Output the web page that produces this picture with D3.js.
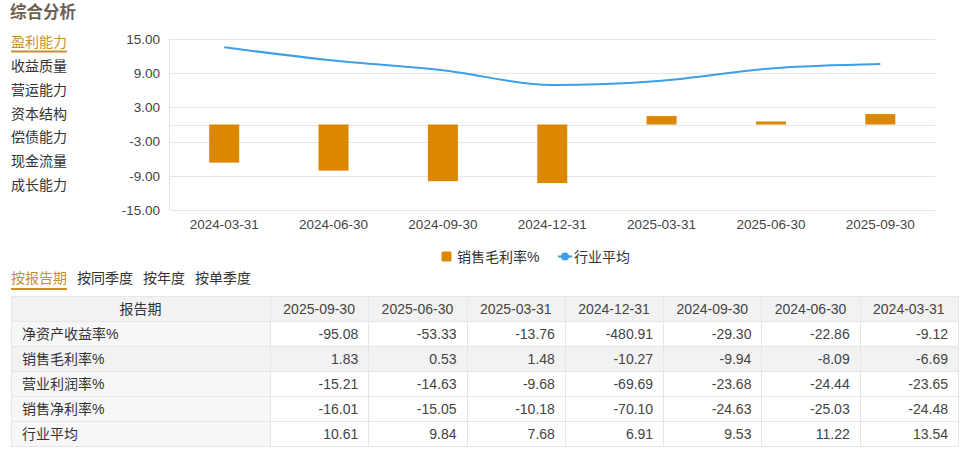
<!DOCTYPE html>
<html><head><meta charset="utf-8">
<script src="https://cdn.jsdelivr.net/npm/d3@7"></script>
<style>
html,body{margin:0;padding:0;background:#fff;}
svg{display:block;font-family:"Liberation Sans","Noto Sans CJK SC",sans-serif;}
</style></head>
<body><svg id="c" width="964" height="453"></svg>
<script>
// ---- data ----
const menuItems = ["盈利能力","收益质量","营运能力","资本结构","偿债能力","现金流量","成长能力"];
const tabs = ["按报告期","按同季度","按年度","按单季度"];
const chartPeriods = ["2024-03-31","2024-06-30","2024-09-30","2024-12-31","2025-03-31","2025-06-30","2025-09-30"];
const grossMargin = [-6.69,-8.09,-9.94,-10.27,1.48,0.53,1.83];
const industryAvg = [13.54,11.22,9.53,6.91,7.68,9.84,10.61];
const yTicks = [15,9,3,-3,-9,-15];
const tablePeriods = ["2025-09-30","2025-06-30","2025-03-31","2024-12-31","2024-09-30","2024-06-30","2024-03-31"];
const rowNames = ["净资产收益率%","销售毛利率%","营业利润率%","销售净利率%","行业平均"];
const roe = ["-95.08","-53.33","-13.76","-480.91","-29.30","-22.86","-9.12"];
const gm = ["1.83","0.53","1.48","-10.27","-9.94","-8.09","-6.69"];
const opm = ["-15.21","-14.63","-9.68","-69.69","-23.68","-24.44","-23.65"];
const npm = ["-16.01","-15.05","-10.18","-70.10","-24.63","-25.03","-24.48"];
const ind = ["10.61","9.84","7.68","6.91","9.53","11.22","13.54"];
const tableRows = [roe, gm, opm, npm, ind];

const svg = d3.select("#c");
const gold = "#c8902c", txt = "#333";

// title
svg.append("text").attr("x",10).attr("y",18).attr("font-size",16.5).attr("font-weight","bold")
  .attr("fill","#6e6050").text("综合分析");

// left menu
const menuY = d3.scalePoint().domain(menuItems).range([42,185]);
svg.selectAll("text.menu").data(menuItems).join("text").attr("class","menu")
  .attr("x",11).attr("y",d=>menuY(d)).attr("dy","0.36em").attr("font-size",14)
  .attr("fill",(d,i)=>i===0?gold:txt).text(d=>d);
svg.append("rect").attr("x",11).attr("y",50.5).attr("width",56).attr("height",2).attr("fill",gold);

// chart
const x = d3.scaleBand().domain(chartPeriods).range([169.5,935]);
const y = d3.scaleLinear().domain([-15,15]).range([210,39]);
const g = svg.append("g");
g.selectAll("line.grid").data(yTicks.concat([0])).join("line").attr("class","grid")
  .attr("x1",169.5).attr("x2",935).attr("y1",d=>Math.round(y(d))+0.5).attr("y2",d=>Math.round(y(d))+0.5)
  .attr("stroke","#e6e6e6");
g.append("line").attr("x1",169.5).attr("x2",169.5).attr("y1",39).attr("y2",210).attr("stroke","#e6e6e6");
g.selectAll("text.yl").data(yTicks).join("text").attr("class","yl")
  .attr("x",160).attr("y",d=>y(d)).attr("dy","0.36em").attr("text-anchor","end")
  .attr("font-size",13.5).attr("fill","#444").text(d=>d.toFixed(2));
g.selectAll("text.xl").data(chartPeriods).join("text").attr("class","xl")
  .attr("x",d=>x(d)+x.bandwidth()/2).attr("y",224).attr("dy","0.36em").attr("text-anchor","middle")
  .attr("font-size",13.5).attr("fill","#444").text(d=>d);
const bw = 30;
g.selectAll("rect.bar").data(grossMargin).join("rect").attr("class","bar")
  .attr("x",(d,i)=>x(chartPeriods[i])+x.bandwidth()/2-bw/2).attr("width",bw)
  .attr("y",d=>y(Math.max(0,d))).attr("height",d=>Math.abs(y(d)-y(0)))
  .attr("fill","#db8700");
const line = d3.line().x((d,i)=>x(chartPeriods[i])+x.bandwidth()/2).y(d=>y(d)).curve(d3.curveMonotoneX);
g.append("path").datum(industryAvg).attr("d",line).attr("fill","none")
  .attr("stroke","#3d9fe6").attr("stroke-width",2);

// legend
const lg = svg.append("g");
lg.append("rect").attr("x",441.5).attr("y",251.5).attr("width",10).attr("height",10).attr("rx",1.5).attr("fill","#db8700");
lg.append("text").attr("x",457).attr("y",256.5).attr("dy","0.36em").attr("font-size",14).attr("fill",txt).text("销售毛利率%");
lg.append("line").attr("x1",558).attr("x2",572).attr("y1",256.5).attr("y2",256.5).attr("stroke","#3d9fe6").attr("stroke-width",2);
lg.append("circle").attr("cx",565).attr("cy",256.5).attr("r",4).attr("fill","#3d9fe6");
lg.append("text").attr("x",574).attr("y",256.5).attr("dy","0.36em").attr("font-size",14).attr("fill",txt).text("行业平均");

// tabs
const tabX = [11,77,143,195];
svg.selectAll("text.tab").data(tabs).join("text").attr("class","tab")
  .attr("x",(d,i)=>tabX[i]).attr("y",278).attr("dy","0.36em").attr("font-size",14)
  .attr("fill",(d,i)=>i===0?gold:txt).text(d=>d);
svg.append("rect").attr("x",11).attr("y",288).attr("width",56).attr("height",2).attr("fill",gold);

// table
const colX = d3.scaleBand().domain(tablePeriods).range([270,958]);
const rowY = d3.scaleBand().domain(d3.range(rowNames.length+1)).range([296,421+25]);
const tg = svg.append("g");
tg.append("rect").attr("x",11).attr("y",rowY(0)).attr("width",947).attr("height",rowY.bandwidth()).attr("fill","#f2f2f2");
tg.selectAll("rect.fc").data(rowNames).join("rect").attr("class","fc")
  .attr("x",11).attr("y",(d,i)=>rowY(i+1)).attr("width",259).attr("height",rowY.bandwidth())
  .attr("fill",(d,i)=>i===1?"#f2f2f2":"#f7f7f7");
tg.append("rect").attr("x",270).attr("y",rowY(2)).attr("width",688).attr("height",rowY.bandwidth()).attr("fill","#f2f2f2");
const ys = d3.range(rowNames.length+2).map(i=>296+i*25);
tg.selectAll("line.h").data(ys).join("line").attr("class","h")
  .attr("x1",11).attr("x2",958).attr("y1",d=>d+0.5).attr("y2",d=>d+0.5).attr("stroke","#e6e6e6");
const xs = [11].concat(tablePeriods.map(p=>colX(p))).concat([958]);
tg.selectAll("line.v").data(xs).join("line").attr("class","v")
  .attr("x1",d=>Math.round(d)+0.5).attr("x2",d=>Math.round(d)+0.5).attr("y1",296).attr("y2",446).attr("stroke","#e6e6e6");
tg.append("text").attr("x",140.5).attr("y",rowY(0)+12.5).attr("dy","0.36em").attr("text-anchor","middle")
  .attr("font-size",14).attr("fill",txt).text("报告期");
tg.selectAll("text.hd").data(tablePeriods).join("text").attr("class","hd")
  .attr("x",d=>colX(d)+colX.bandwidth()/2).attr("y",rowY(0)+12.5).attr("dy","0.36em").attr("text-anchor","middle")
  .attr("font-size",14).attr("fill","#444").text(d=>d);
tableRows.forEach((vals,ri)=>{
  tg.append("text").attr("x",22).attr("y",rowY(ri+1)+12.5).attr("dy","0.36em")
    .attr("font-size",14).attr("fill",txt).text(rowNames[ri]);
  tg.selectAll("text.r"+ri).data(vals).join("text").attr("class","r"+ri)
    .attr("x",(d,i)=>colX(tablePeriods[i])+colX.bandwidth()-10).attr("y",rowY(ri+1)+12.5).attr("dy","0.36em")
    .attr("text-anchor","end").attr("font-size",14).attr("fill","#444").text(d=>d);
});
</script></body></html>
